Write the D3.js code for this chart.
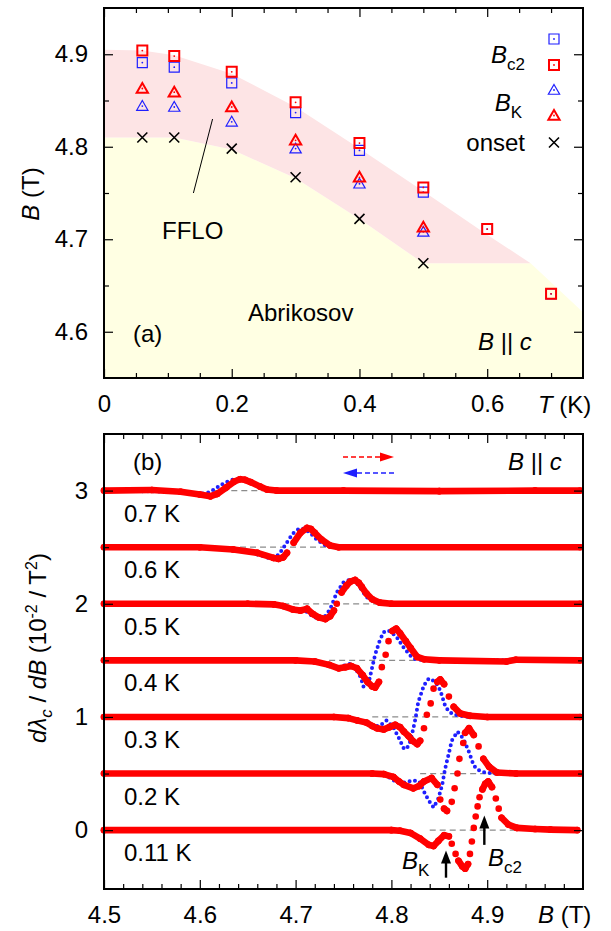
<!DOCTYPE html>
<html>
<head>
<meta charset="utf-8">
<script src="https://cdn.jsdelivr.net/npm/d3@7"></script>
<style>
  body { margin: 0; background: #fff; }
</style>
</head>
<body>
<svg id="chart" width="611" height="931"></svg>
<script>
// ---------- data, panel (a): phase diagram ----------
const tempsBc2 = [0.06, 0.11, 0.2, 0.3, 0.4, 0.5, 0.6, 0.7];
const bc2Up = [4.904, 4.898, 4.881, 4.848, 4.804, 4.756, 4.711, 4.641];
const bc2Down = [4.891, 4.886, 4.869, 4.837, 4.796, 4.751, 4.711, 4.641];
const tempsBk = [0.06, 0.11, 0.2, 0.3, 0.4, 0.5];
const bkUp = [4.863, 4.859, 4.843, 4.807, 4.767, 4.713];
const bkDown = [4.844, 4.843, 4.827, 4.798, 4.760, 4.708];
const tempsOnset = [0.06, 0.11, 0.2, 0.3, 0.4, 0.5];
const onset = [4.810, 4.810, 4.798, 4.767, 4.722, 4.674];

// region boundaries [T, B]
const ffloUpper = [[0, 4.905], [0.06, 4.904], [0.11, 4.899], [0.2, 4.879], [0.3, 4.843],
  [0.4, 4.798], [0.5, 4.752], [0.6, 4.705], [0.668, 4.674]];
const ffloLower = [[0, 4.81], [0.11, 4.81], [0.2, 4.797], [0.3, 4.766], [0.4, 4.722],
  [0.5, 4.674], [0.668, 4.674]];
const abrikosovEdge = [[0, 4.81], [0.11, 4.81], [0.2, 4.797], [0.3, 4.766], [0.4, 4.722],
  [0.5, 4.674], [0.668, 4.674], [0.75, 4.621]];

const tMajor = [0, 0.2, 0.4, 0.6];
const tMinor = [0.05, 0.1, 0.15, 0.25, 0.3, 0.35, 0.45, 0.5, 0.55, 0.65, 0.7];
const bMajorA = [4.6, 4.7, 4.8, 4.9];
const bMinorA = [4.65, 4.75, 4.85];

// ---------- data, panel (b): dλ/dB sweeps, [B, deviation from row offset] ----------
const rowLabels = ['0.11 K', '0.2 K', '0.3 K', '0.4 K', '0.5 K', '0.6 K', '0.7 K'];
const rowOffsets = [0, 0.5, 1, 1.5, 2, 2.5, 3];
const dashFrom = [4.84, 4.83, 4.78, 4.735, 4.687, 4.642, 4.612];
const dashTo = [4.997, 4.997, 4.879, 4.833, 4.785, 4.736, 4.666];

const upSweep = [
  // 0.11 K
  [[4.5, 0], [4.80, 0], [4.809, -0.005], [4.820, -0.025], [4.830, -0.075], [4.839, -0.13],
   [4.844, -0.14], [4.849, -0.095], [4.855, -0.045], [4.860, -0.055], [4.863, -0.12],
   [4.867, -0.21], [4.870, -0.27], [4.874, -0.32], [4.877, -0.34], [4.880, -0.30],
   [4.882, -0.21], [4.884, -0.10], [4.886, 0.02], [4.888, 0.12], [4.890, 0.21], [4.892, 0.29],
   [4.895, 0.36], [4.898, 0.41], [4.901, 0.43], [4.905, 0.38], [4.909, 0.28], [4.912, 0.19],
   [4.915, 0.11], [4.922, 0.05], [4.931, 0.02], [4.95, 0.01], [4.966, 0.005], [4.994, 0]],
  // 0.2 K
  [[4.5, 0], [4.78, 0], [4.792, -0.005], [4.802, -0.03], [4.808, -0.07], [4.813, -0.10],
   [4.823, -0.13], [4.829, -0.11], [4.834, -0.07], [4.842, -0.04], [4.848, -0.10],
   [4.851, -0.23], [4.855, -0.31], [4.858, -0.33], [4.863, -0.25], [4.866, -0.13],
   [4.869, 0], [4.871, 0.13], [4.875, 0.27], [4.877, 0.36], [4.881, 0.40], [4.886, 0.34],
   [4.891, 0.24], [4.896, 0.13], [4.902, 0.06], [4.910, 0.01], [4.93, 0], [4.997, 0]],
  // 0.3 K
  [[4.5, 0], [4.74, 0], [4.755, -0.01], [4.764, -0.03], [4.774, -0.05], [4.780, -0.08],
   [4.785, -0.10], [4.792, -0.11], [4.798, -0.09], [4.804, -0.07], [4.809, -0.09],
   [4.813, -0.13], [4.818, -0.17], [4.822, -0.21], [4.827, -0.24], [4.830, -0.21],
   [4.834, -0.10], [4.837, 0.02], [4.841, 0.12], [4.844, 0.25], [4.848, 0.31], [4.851, 0.33],
   [4.855, 0.29], [4.860, 0.18], [4.865, 0.09], [4.872, 0.03], [4.882, 0.01], [4.90, 0],
   [4.997, 0]],
  // 0.4 K
  [[4.5, 0], [4.70, 0], [4.72, -0.01], [4.735, -0.04], [4.745, -0.07], [4.752, -0.06],
   [4.758, -0.05], [4.764, -0.07], [4.770, -0.13], [4.775, -0.19], [4.780, -0.23],
   [4.783, -0.24], [4.787, -0.19], [4.790, -0.06], [4.794, 0.05], [4.797, 0.17],
   [4.801, 0.26], [4.805, 0.28], [4.809, 0.24], [4.815, 0.17], [4.820, 0.11], [4.827, 0.03],
   [4.834, 0.01], [4.85, 0], [4.92, -0.01], [4.93, 0.005], [4.997, 0]],
  // 0.5 K
  [[4.5, 0], [4.65, 0], [4.677, -0.005], [4.687, -0.02], [4.697, -0.05], [4.705, -0.06],
   [4.712, -0.045], [4.718, -0.09], [4.724, -0.12], [4.731, -0.135], [4.736, -0.11],
   [4.740, -0.06], [4.743, 0], [4.748, 0.10], [4.753, 0.16], [4.757, 0.195], [4.762, 0.21],
   [4.766, 0.185], [4.769, 0.15], [4.774, 0.09], [4.780, 0.04], [4.788, 0.01], [4.80, 0],
   [4.997, 0]],
  // 0.6 K
  [[4.5, 0], [4.60, 0], [4.635, -0.02], [4.66, -0.05], [4.677, -0.095], [4.682, -0.103],
   [4.687, -0.09], [4.691, -0.05], [4.698, 0.04], [4.705, 0.127], [4.712, 0.17],
   [4.716, 0.16], [4.720, 0.127], [4.727, 0.068], [4.736, 0.015], [4.745, 0], [4.997, 0]],
  // 0.7 K
  [[4.5, 0], [4.55, 0.005], [4.58, -0.01], [4.60, -0.035], [4.611, -0.05], [4.618, -0.03],
   [4.628, 0.03], [4.636, 0.08], [4.642, 0.10], [4.647, 0.095], [4.653, 0.075],
   [4.663, 0.035], [4.670, 0.01], [4.68, 0], [4.75, 0], [4.85, -0.005], [4.95, 0], [4.997, 0]]
];

const downSweep = [
  null,
  // 0.2 K
  [[4.5, 0], [4.78, 0], [4.792, -0.01], [4.799, -0.04], [4.806, -0.08], [4.813, -0.08],
   [4.823, -0.06], [4.829, -0.07], [4.834, -0.16], [4.839, -0.24], [4.844, -0.30],
   [4.849, -0.22], [4.853, -0.10], [4.856, 0.04], [4.860, 0.18], [4.863, 0.29], [4.869, 0.37],
   [4.875, 0.31], [4.881, 0.19], [4.886, 0.07], [4.891, 0.03], [4.897, 0.01], [4.91, 0],
   [4.997, 0]],
  // 0.3 K
  [[4.5, 0], [4.74, 0], [4.755, -0.01], [4.764, -0.03], [4.774, -0.06], [4.782, -0.09],
   [4.789, -0.07], [4.795, -0.03], [4.802, -0.09], [4.808, -0.19], [4.813, -0.28],
   [4.816, -0.28], [4.820, -0.21], [4.825, -0.02], [4.828, 0.13], [4.834, 0.28], [4.839, 0.34],
   [4.846, 0.31], [4.851, 0.235], [4.856, 0.10], [4.860, 0.045], [4.866, 0.02], [4.88, 0],
   [4.997, 0]],
  // 0.4 K
  [[4.5, 0], [4.70, 0], [4.72, -0.01], [4.735, -0.04], [4.745, -0.07], [4.752, -0.04],
   [4.757, -0.03], [4.763, -0.08], [4.768, -0.15], [4.771, -0.235], [4.774, -0.22],
   [4.777, -0.17], [4.780, -0.06], [4.783, 0.05], [4.788, 0.18], [4.792, 0.25], [4.796, 0.265],
   [4.800, 0.25], [4.806, 0.2], [4.813, 0.11], [4.820, 0.04], [4.825, 0.01], [4.84, 0],
   [4.997, 0]],
  // 0.5 K
  [[4.5, 0], [4.65, 0], [4.68, -0.01], [4.70, -0.06], [4.712, -0.07], [4.719, -0.12],
   [4.729, -0.13], [4.736, -0.05], [4.743, 0.10], [4.750, 0.19], [4.757, 0.215], [4.762, 0.20],
   [4.766, 0.16], [4.774, 0.06], [4.780, 0.025], [4.79, 0.005], [4.80, 0], [4.997, 0]],
  // 0.6 K
  [[4.5, 0], [4.60, 0], [4.63, -0.02], [4.655, -0.05], [4.672, -0.095], [4.677, -0.10],
   [4.683, -0.06], [4.690, 0.03], [4.697, 0.12], [4.704, 0.165], [4.710, 0.16], [4.716, 0.12],
   [4.723, 0.06], [4.732, 0.012], [4.74, 0], [4.997, 0]],
  // 0.7 K
  [[4.5, 0], [4.58, -0.01], [4.60, -0.03], [4.608, -0.02], [4.615, 0.01], [4.622, 0.05],
   [4.630, 0.085], [4.638, 0.105], [4.645, 0.095], [4.655, 0.07], [4.665, 0.035],
   [4.672, 0.01], [4.68, 0], [4.997, 0]]
];

const bMajorB = [4.5, 4.6, 4.7, 4.8, 4.9];
const bMinorB = d3.range(4.52, 5.0, 0.02).filter(v => Math.abs(v * 10 - Math.round(v * 10)) > 1e-6);
const yMajorB = [0, 1, 2, 3];
const yMinorB = [0.5, 1.5, 2.5];

// ---------- styling ----------
const FONT = '"Liberation Sans", Arial, Helvetica, sans-serif';
const RED = '#ff0000';
const BLUE = '#1f1fff';
const PINK = '#fde4e5';
const CREAM = '#ffffe3';

const svg = d3.select('#chart').attr('font-family', FONT);

// ---------- panel (a) ----------
const xT = d3.scaleLinear().domain([0, 0.75]).range([104, 583]);
const yT = d3.scaleLinear().domain([4.55, 4.95]).range([378, 8]);

const gA = svg.append('g');

// Abrikosov region (cream) under the onset line
gA.append('path')
  .datum(abrikosovEdge.concat([[0.75, 4.55], [0, 4.55]]))
  .attr('d', d => d3.line().x(p => xT(p[0])).y(p => yT(p[1]))(d) + 'Z')
  .attr('fill', CREAM);

// FFLO band (pink) between onset and Bc2
gA.append('path')
  .datum(ffloUpper.concat(ffloLower.slice().reverse()))
  .attr('d', d => d3.line().x(p => xT(p[0])).y(p => yT(p[1]))(d) + 'Z')
  .attr('fill', PINK);

function addAxes(g, x, y, xMaj, xMin, yMaj, yMin, xFmt, yFmt) {
  const [x0, x1] = x.range();
  const [y0, y1] = y.range();
  const style = sel => {
    sel.select('.domain').remove();
    sel.attr('font-size', 24).attr('font-family', FONT);
    sel.selectAll('line').attr('stroke', '#000').attr('stroke-width', 1.2);
  };
  g.append('g').attr('transform', `translate(0,${y0})`)
    .call(d3.axisBottom(x).tickValues(xMaj).tickSize(-9).tickPadding(17).tickFormat(xFmt)).call(style);
  g.append('g').attr('transform', `translate(0,${y0})`)
    .call(d3.axisBottom(x).tickValues(xMin).tickSize(-5).tickFormat('')).call(style);
  g.append('g').attr('transform', `translate(0,${y1})`)
    .call(d3.axisTop(x).tickValues(xMaj).tickSize(-9).tickFormat('')).call(style);
  g.append('g').attr('transform', `translate(0,${y1})`)
    .call(d3.axisTop(x).tickValues(xMin).tickSize(-5).tickFormat('')).call(style);
  g.append('g').attr('transform', `translate(${x0},0)`)
    .call(d3.axisLeft(y).tickValues(yMaj).tickSize(-9).tickPadding(16).tickFormat(yFmt)).call(style);
  g.append('g').attr('transform', `translate(${x0},0)`)
    .call(d3.axisLeft(y).tickValues(yMin).tickSize(-5).tickFormat('')).call(style);
  g.append('g').attr('transform', `translate(${x1},0)`)
    .call(d3.axisRight(y).tickValues(yMaj).tickSize(-9).tickFormat('')).call(style);
  g.append('g').attr('transform', `translate(${x1},0)`)
    .call(d3.axisRight(y).tickValues(yMin).tickSize(-5).tickFormat('')).call(style);
  g.selectAll('.tick text').attr('fill', '#000');
  g.append('rect')
    .attr('x', x0).attr('y', y1)
    .attr('width', x1 - x0).attr('height', y0 - y1)
    .attr('fill', 'none').attr('stroke', '#000').attr('stroke-width', 2);
}

addAxes(gA, xT, yT, tMajor, tMinor, bMajorA, bMinorA,
  d => (d === 0 ? '0' : d3.format('.1f')(d)), d3.format('.1f'));

// FFLO pointer line
gA.append('line')
  .attr('x1', xT(0.170)).attr('y1', yT(4.830))
  .attr('x2', xT(0.140)).attr('y2', yT(4.750))
  .attr('stroke', '#000').attr('stroke-width', 1);

const squareSym = d3.symbol(d3.symbolSquare, 100);
const triSym = d3.symbol(d3.symbolTriangle, 55);
const crossPath = 'M-5,-5L5,5M-5,5L5,-5';

function drawMarkers(temps, vals, kind, color, sw) {
  const pts = temps.map((t, i) => [t, vals[i]]);
  const g = gA.append('g');
  const marks = g.selectAll('g').data(pts).join('g')
    .attr('transform', d => `translate(${xT(d[0])},${yT(d[1])})`);
  drawGlyph(marks, kind, color, sw);
}

function drawGlyph(sel, kind, color, sw) {
  if (kind === 'cross') {
    sel.append('path').attr('d', crossPath).attr('stroke', color).attr('stroke-width', 1.6).attr('fill', 'none');
    return;
  }
  sel.append('path')
    .attr('d', kind === 'square' ? squareSym() : triSym())
    .attr('transform', kind === 'tri' ? 'translate(0,1)' : null)
    .attr('fill', 'none').attr('stroke', color).attr('stroke-width', sw);
  sel.append('circle').attr('r', 0.9).attr('fill', color);
}

drawMarkers(tempsBc2, bc2Down, 'square', BLUE, 1.2);
drawMarkers(tempsBc2, bc2Up, 'square', RED, 2);
drawMarkers(tempsBk, bkDown, 'tri', BLUE, 1.2);
drawMarkers(tempsBk, bkUp, 'tri', RED, 2);
drawMarkers(tempsOnset, onset, 'cross', '#000', 1.6);

// legend (a)
const legendA = [
  { y: 39, kind: 'square', color: BLUE, sw: 1.2 },
  { y: 65, kind: 'square', color: RED, sw: 2 },
  { y: 90, kind: 'tri', color: BLUE, sw: 1.2 },
  { y: 115.5, kind: 'tri', color: RED, sw: 2 },
  { y: 142.5, kind: 'cross', color: '#000', sw: 1.6 }
];
legendA.forEach(l => {
  const g = gA.append('g').attr('transform', `translate(554,${l.y})`);
  drawGlyph(g, l.kind, l.color, l.sw);
});

function subLabel(g, x, y, main, sub, anchor) {
  const t = g.append('text').attr('x', x).attr('y', y).attr('font-size', 24)
    .attr('text-anchor', anchor || 'start');
  t.append('tspan').attr('font-style', 'italic').text(main);
  t.append('tspan').attr('font-size', 17).attr('dy', 7).text(sub);
  return t;
}
subLabel(gA, 525, 63, 'B', 'c2', 'end');
subLabel(gA, 522, 111, 'B', 'K', 'end');
gA.append('text').attr('x', 525).attr('y', 151).attr('font-size', 24)
  .attr('text-anchor', 'end').text('onset');

gA.append('text').attr('x', 162).attr('y', 239).attr('font-size', 24).text('FFLO');
gA.append('text').attr('x', 248).attr('y', 321).attr('font-size', 24).text('Abrikosov');
gA.append('text').attr('x', 133).attr('y', 342).attr('font-size', 24).text('(a)');

function parallelLabel(g, x, y) {
  const t = g.append('text').attr('x', x).attr('y', y).attr('font-size', 24);
  t.append('tspan').attr('font-style', 'italic').text('B');
  t.append('tspan').text(' || ');
  t.append('tspan').attr('font-style', 'italic').text('c');
}
parallelLabel(gA, 478, 350);

// axis titles (a)
const tTitle = gA.append('text').attr('x', 538).attr('y', 413).attr('font-size', 24);
tTitle.append('tspan').attr('font-style', 'italic').text('T');
tTitle.append('tspan').text(' (K)');

const bTitleA = gA.append('text').attr('transform', 'translate(39,194) rotate(-90)')
  .attr('text-anchor', 'middle').attr('font-size', 24);
bTitleA.append('tspan').attr('font-style', 'italic').text('B');
bTitleA.append('tspan').text(' (T)');

// ---------- panel (b) ----------
const xB = d3.scaleLinear().domain([4.5, 5.0]).range([104, 583]);
const yB = d3.scaleLinear().domain([-0.52, 3.5]).range([889, 434]);

const gB = svg.append('g');

// dashed reference baselines
gB.append('g').selectAll('line').data(rowOffsets).join('line')
  .attr('x1', (d, i) => xB(dashFrom[i])).attr('x2', (d, i) => xB(dashTo[i]))
  .attr('y1', d => yB(d)).attr('y2', d => yB(d))
  .attr('stroke', '#8c8c8c').attr('stroke-width', 1.3).attr('stroke-dasharray', '6,4');

// up sweep: big dots, merged into a thick trace where the curve is gentle
function drawUpSweep(g, pts, offset) {
  const r = 3.3;
  const p = pts.map(([b, v]) => [xB(b), yB(offset + v)]);
  const joined = d3.pairs(p).filter(([a, b]) =>
    Math.abs(b[1] - a[1]) <= Math.max(2 * r, (b[0] - a[0]) * 1.5));
  g.append('g').selectAll('line').data(joined).join('line')
    .attr('x1', d => d[0][0]).attr('y1', d => d[0][1])
    .attr('x2', d => d[1][0]).attr('y2', d => d[1][1])
    .attr('stroke', RED).attr('stroke-width', 2 * r).attr('stroke-linecap', 'round');
  g.append('g').selectAll('circle').data(p).join('circle')
    .attr('cx', d => d[0]).attr('cy', d => d[1]).attr('r', r).attr('fill', RED);
}

// down sweep: small dots, drawn as a dotted line through the read points
function drawDownSweep(g, pts, offset) {
  g.append('path')
    .datum(pts)
    .attr('d', d3.line().x(d => xB(d[0])).y(d => yB(offset + d[1])))
    .attr('fill', 'none')
    .attr('stroke', BLUE).attr('stroke-width', 4)
    .attr('stroke-linecap', 'round')
    .attr('stroke-dasharray', '0,5.5');
}

rowOffsets.forEach((off, i) => {
  const row = gB.append('g');
  if (downSweep[i]) drawDownSweep(row, downSweep[i], off);
  drawUpSweep(row, upSweep[i], off);
});

// temperature labels
gB.append('g').selectAll('text').data(rowOffsets).join('text')
  .attr('x', 124).attr('y', d => yB(d) + 31)
  .attr('font-size', 24)
  .text((d, i) => rowLabels[i]);

addAxes(gB, xB, yB, bMajorB, bMinorB, yMajorB, yMinorB, d3.format('.1f'), d3.format('d'));

gB.append('text').attr('x', 133).attr('y', 470).attr('font-size', 24).text('(b)');
parallelLabel(gB, 508, 470);

// sweep direction legend
function dashedArrow(g, xFrom, xTo, y, color) {
  const dir = Math.sign(xTo - xFrom);
  g.append('line')
    .attr('x1', xFrom).attr('x2', xTo - dir * 12).attr('y1', y).attr('y2', y)
    .attr('stroke', color).attr('stroke-width', 1.6).attr('stroke-dasharray', '5,3');
  g.append('path')
    .attr('d', `M${xTo},${y}L${xTo - dir * 14},${y - 4.5}L${xTo - dir * 14},${y + 4.5}Z`)
    .attr('fill', color);
}
dashedArrow(gB, 343, 394, 457, RED);
dashedArrow(gB, 394, 343, 473, BLUE);

// B_K and B_c2 markers on the 0.11 K trace
function upArrow(g, b, vFrom, vTo) {
  const x = xB(b);
  g.append('line').attr('x1', x).attr('x2', x)
    .attr('y1', yB(vFrom)).attr('y2', yB(vTo) + 10)
    .attr('stroke', '#000').attr('stroke-width', 2.4);
  g.append('path')
    .attr('d', `M${x},${yB(vTo)}L${x - 5},${yB(vTo) + 13}L${x + 5},${yB(vTo) + 13}Z`)
    .attr('fill', '#000');
}
upArrow(gB, 4.857, -0.42, -0.18);
upArrow(gB, 4.897, -0.13, 0.13);
subLabel(gB, 402, 869, 'B', 'K');
subLabel(gB, 488, 866, 'B', 'c2');

// axis titles (b)
const bTitle = gB.append('text').attr('x', 538).attr('y', 923).attr('font-size', 24);
bTitle.append('tspan').attr('font-style', 'italic').text('B');
bTitle.append('tspan').text(' (T)');

const yTitle = gB.append('text').attr('transform', 'translate(46,648) rotate(-90)')
  .attr('text-anchor', 'middle').attr('font-size', 24);
yTitle.append('tspan').attr('font-style', 'italic').text('dλ');
yTitle.append('tspan').attr('font-style', 'italic').attr('font-size', 17).attr('dy', 6).text('c');
yTitle.append('tspan').attr('dy', -6).text(' / ');
yTitle.append('tspan').attr('font-style', 'italic').text('dB');
yTitle.append('tspan').text(' (10');
yTitle.append('tspan').attr('font-size', 16).attr('dy', -9).text('-2');
yTitle.append('tspan').attr('dy', 9).text(' / T');
yTitle.append('tspan').attr('font-size', 16).attr('dy', -9).text('2');
yTitle.append('tspan').attr('dy', 9).text(')');
</script>
</body>
</html>
